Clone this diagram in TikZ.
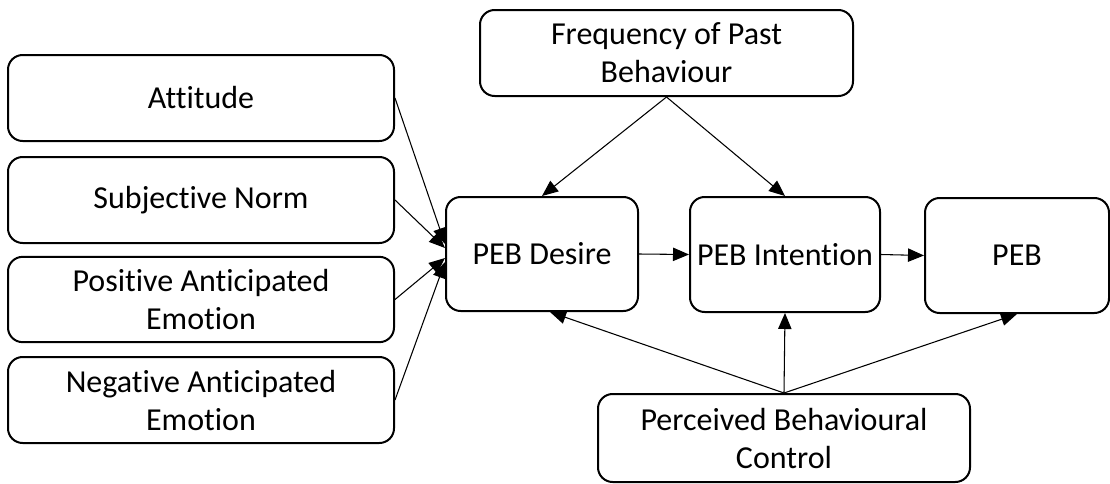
\documentclass[tikz,border=0pt]{standalone}
\usepackage{fontspec}
\setmainfont{Carlito}[Ligatures=NoCommon]
\usetikzlibrary{arrows.meta,calc}
\tikzset{
  box/.style={draw, line width=1.5pt, rounded corners=11pt, inner sep=0pt, align=center,
    font=\fontsize{24}{28.5}\selectfont},
  arr/.style={line width=0.8pt, -{Triangle[length=12pt,width=10pt]}}
}
\begin{document}
\begin{tikzpicture}[x=0.75pt,y=-0.75pt]
\useasboundingbox (0,0) rectangle (1110,483);
\node[box, minimum width=289.5pt, minimum height=64.5pt] (att) at (201,98) {Attitude};
\node[box, minimum width=289.5pt, minimum height=64.5pt] (sub) at (201,200) {Subjective Norm};
\node[box, minimum width=289.5pt, minimum height=64pt] (pos) at (201,299.5) {Positive Anticipated\\Emotion};
\node[box, minimum width=289.5pt, minimum height=64.5pt] (neg) at (201,400) {Negative Anticipated\\Emotion};
\node[box, minimum width=279.75pt, minimum height=64.5pt] (freq) at (666.5,53) {Frequency of Past\\Behaviour};
\node[box, minimum width=144pt, minimum height=85.5pt] (des) at (542,254) {PEB Desire};
\node[box, minimum width=142.5pt, minimum height=86.25pt] (int) at (785,254.5) {PEB Intention};
\node[box, minimum width=138pt, minimum height=86.25pt] (peb) at (1017,255.5) {PEB};
\node[box, minimum width=279pt, minimum height=66pt] (pbc) at (784,438) {Perceived Behavioural\\Control};
\draw[arr] (att.east) -- ($(des.west)+(0,-10)$);
\draw[arr] (sub.east) -- ($(des.west)+(0,-6)$);
\draw[arr] (pos.east) -- ($(des.west)+(0,4)$);
\draw[arr] (neg.east) -- ($(des.west)+(0,8)$);
\draw[arr] (freq.south) -- (des.north);
\draw[arr] (freq.south) -- (int.north);
\draw[arr] (des.east) -- (int.west);
\draw[arr] (int.east) -- (peb.west);
\draw[arr] (pbc.north) -- ($(des.south)+(8,0)$);
\draw[arr] (pbc.north) -- (int.south);
\draw[arr] (pbc.north) -- (peb.south);
\end{tikzpicture}
\end{document}
